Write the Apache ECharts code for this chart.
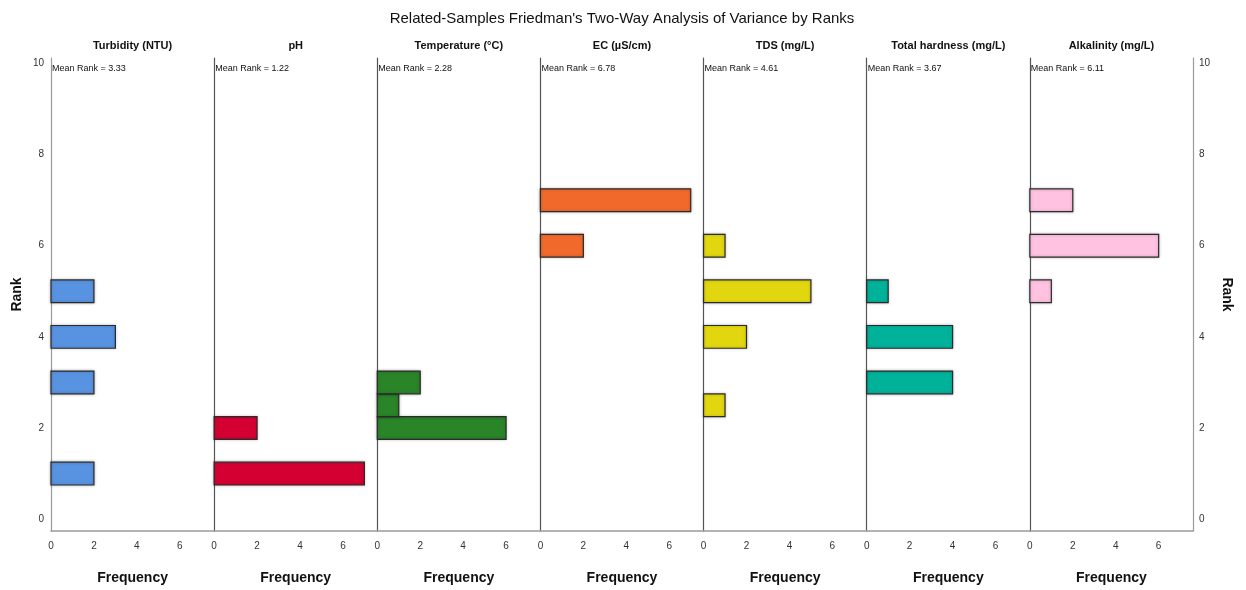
<!DOCTYPE html>
<html>
<head>
<meta charset="utf-8">
<script src="https://cdn.jsdelivr.net/npm/echarts@6/dist/echarts.min.js"></script>
<style>html,body{margin:0;padding:0;background:#fff}#c{width:1246px;height:590px}</style>
</head>
<body>
<div id="c"></div>
<script>
// ---- data ----
const chartTitle = "Related-Samples Friedman's Two-Way Analysis of Variance by Ranks";
const variables = ['Turbidity (NTU)', 'pH', 'Temperature (°C)', 'EC (µS/cm)', 'TDS (mg/L)', 'Total hardness (mg/L)', 'Alkalinity (mg/L)'];
const meanRanks = ['3.33', '1.22', '2.28', '6.78', '4.61', '3.67', '6.11'];
const rankTicks = [0, 2, 4, 6, 8, 10];
const freqTicks = [0, 2, 4, 6];
const binWidth = 0.5;

const turbidityRanks = [1, 3, 4, 5];
const turbidityFreq  = [2, 2, 3, 2];
const phRanks = [1, 2];
const phFreq  = [7, 2];
const temperatureRanks = [2, 2.5, 3];
const temperatureFreq  = [6, 1, 2];
const ecRanks = [6, 7];
const ecFreq  = [2, 7];
const tdsRanks = [2.5, 4, 5, 6];
const tdsFreq  = [1, 2, 5, 1];
const hardnessRanks = [3, 4, 5];
const hardnessFreq  = [4, 4, 1];
const alkalinityRanks = [5, 6, 7];
const alkalinityFreq  = [1, 6, 2];

const panelRanks = [turbidityRanks, phRanks, temperatureRanks, ecRanks, tdsRanks, hardnessRanks, alkalinityRanks];
const panelFreq  = [turbidityFreq, phFreq, temperatureFreq, ecFreq, tdsFreq, hardnessFreq, alkalinityFreq];
const colors = ['#5893E1', '#D50032', '#2A8428', '#F2692C', '#E2D70F', '#00B29A', '#FFC2E1'];

// ---- layout ----
const FONT = "'Liberation Sans Narrow','Arial Narrow','Liberation Sans',Arial,sans-serif";
const plotLeft = 51, plotRight = 1193, gridTop = 58, gridBottom = 57;
const n = variables.length;
const pw = (plotRight - plotLeft) / n;
const yMin = -0.26, yMax = 10.12, xMax = 7.6;

const grids = [], xAxes = [], yAxes = [], series = [], titles = [];
titles.push({
  text: chartTitle, left: 622, top: 11, textAlign: 'center', padding: 0,
  textStyle: { fontFamily: "'Liberation Sans',Arial,sans-serif", fontSize: 15, fontWeight: 'normal', color: '#111' }
});
for (let i = 0; i < n; i++) {
  const gl = plotLeft + i * pw;
  grids.push({ left: gl, width: pw, top: gridTop, bottom: gridBottom, containLabel: false });
  xAxes.push({
    gridIndex: i, type: 'value', min: 0, max: xMax, interval: 2,
    axisLine: { show: true, onZero: false, lineStyle: { color: '#9a9a9a', width: 1.5 } },
    axisTick: { show: false }, splitLine: { show: false },
    axisLabel: { customValues: freqTicks, fontSize: 10, color: '#333', margin: 10, fontFamily: FONT },
    name: 'Frequency', nameLocation: 'middle', nameGap: 40,
    nameTextStyle: { fontFamily: FONT, fontSize: 14, fontWeight: 'bold', color: '#111' }
  });
  const yAx = {
    gridIndex: i, type: 'value', min: yMin, max: yMax, interval: 2,
    axisLine: { show: true, onZero: false, lineStyle: { color: i === 0 ? '#9a9a9a' : '#555', width: 1.2 } },
    axisTick: { show: false }, splitLine: { show: false },
    axisLabel: { show: i === 0, customValues: rankTicks, fontSize: 10, color: '#333', margin: 7, fontFamily: FONT }
  };
  if (i === 0) {
    yAx.name = 'Rank'; yAx.nameLocation = 'middle'; yAx.nameGap = 27; yAx.nameRotate = 90;
    yAx.nameTextStyle = { fontFamily: FONT, fontSize: 14, fontWeight: 'bold', color: '#111' };
  }
  yAxes.push(yAx);
  titles.push({
    text: variables[i], left: gl + pw / 2, top: 40, textAlign: 'center', padding: 0,
    textStyle: { fontFamily: FONT, fontSize: 11, fontWeight: 'bold', color: '#111' }
  });
  titles.push({
    text: 'Mean Rank = ' + meanRanks[i], left: gl + 1, top: 64, padding: 0,
    textStyle: { fontFamily: FONT, fontSize: 9, fontWeight: 'normal', color: '#111' }
  });
  const color = colors[i];
  series.push({
    type: 'custom', xAxisIndex: i, yAxisIndex: i,
    data: panelRanks[i].map((r, k) => [panelFreq[i][k], r]),
    encode: { x: 0, y: 1 },
    renderItem: function (params, api) {
      const f = api.value(0), r = api.value(1);
      const p0 = api.coord([0, r + binWidth / 2]);
      const p1 = api.coord([f, r - binWidth / 2]);
      return {
        type: 'rect',
        shape: { x: p0[0], y: p0[1], width: p1[0] - p0[0], height: p1[1] - p0[1] },
        style: { fill: color, stroke: '#2b2b2b', lineWidth: 1.2, shadowColor: 'rgba(0,0,0,0.25)', shadowBlur: 3 }
      };
    }
  });
}
// right-hand rank axis on last panel
yAxes.push({
  gridIndex: n - 1, type: 'value', min: yMin, max: yMax, interval: 2, position: 'right',
  axisLine: { show: true, onZero: false, lineStyle: { color: '#9a9a9a', width: 1.2 } },
  axisTick: { show: false }, splitLine: { show: false },
  axisLabel: { customValues: rankTicks, fontSize: 10, color: '#333', margin: 6, fontFamily: FONT },
  name: 'Rank', nameLocation: 'middle', nameGap: 27, nameRotate: -90,
  nameTextStyle: { fontFamily: FONT, fontSize: 14, fontWeight: 'bold', color: '#111' }
});

const chart = echarts.init(document.getElementById('c'), null, { renderer: 'canvas' });
chart.setOption({
  animation: false, backgroundColor: '#fff',
  title: titles, grid: grids, xAxis: xAxes, yAxis: yAxes, series: series
});
</script>
</body>
</html>
